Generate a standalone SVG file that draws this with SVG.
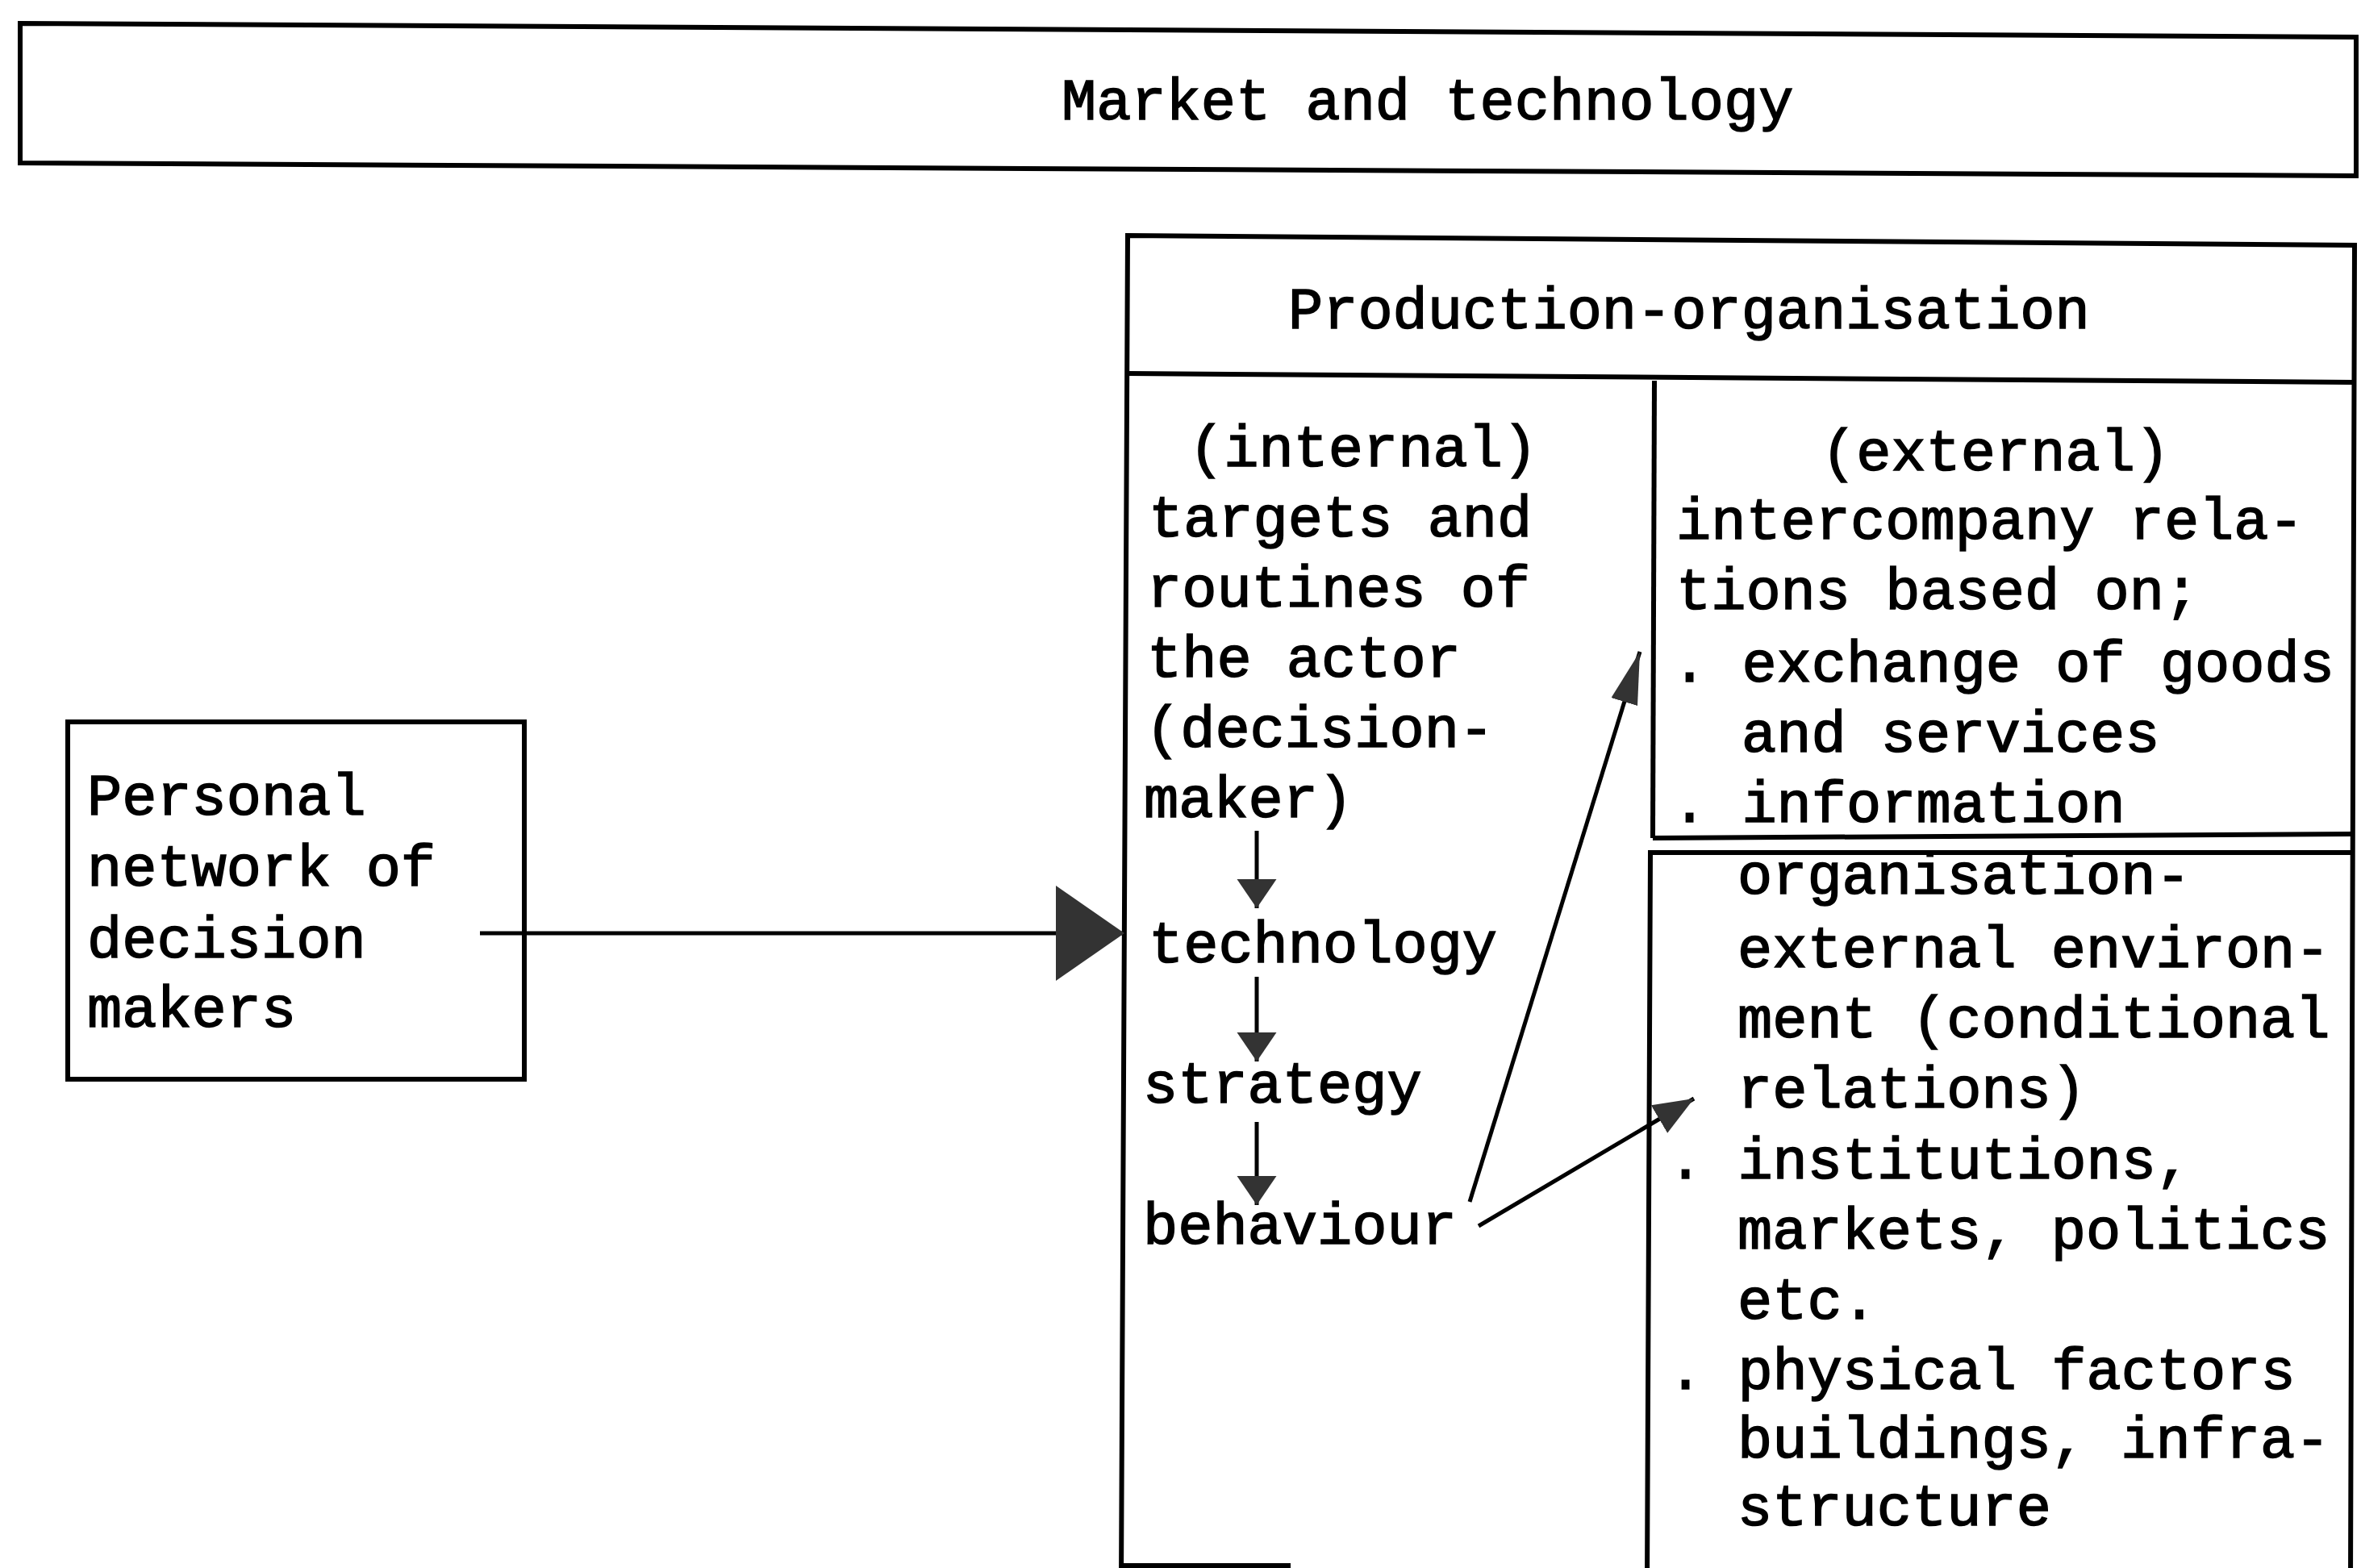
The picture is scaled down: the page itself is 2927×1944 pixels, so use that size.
<svg xmlns="http://www.w3.org/2000/svg" width="2927" height="1944" viewBox="0 0 2927 1944">
<style>
.t{font-family:"Liberation Mono","Courier New",monospace;font-size:72px;fill:#000;stroke:#000;stroke-width:1.6}
.b{fill:none;stroke:#000;stroke-width:6}
.c{fill:none;stroke:#000;stroke-width:5}
</style>
<defs>
<marker id="hs" markerUnits="userSpaceOnUse" markerWidth="40" markerHeight="52" refX="36" refY="24.5" orient="auto" viewBox="0 0 40 52"><path d="M0,0 L36,24.5 L0,49 z" fill="#333"/></marker>
<marker id="hl" markerUnits="userSpaceOnUse" markerWidth="90" markerHeight="122" refX="85" refY="59" orient="auto" viewBox="0 0 90 122"><path d="M0,0 L85,59 L0,118 z" fill="#333"/></marker>
<marker id="ha" markerUnits="userSpaceOnUse" markerWidth="70" markerHeight="40" refX="65" refY="17" orient="auto" viewBox="0 0 70 40"><path d="M0,0 L65,17 L0,34 z" fill="#333"/></marker>
<marker id="hb" markerUnits="userSpaceOnUse" markerWidth="56" markerHeight="46" refX="50" refY="20" orient="auto" viewBox="0 0 56 46"><path d="M0,0 L50,20 L0,40 z" fill="#333"/></marker>
</defs>
<rect width="2927" height="1944" fill="#fff"/>
<g id="market">
<polygon class="b" points="25,29 2921,46 2921,218 25,202"/>
<text class="t" x="1316" y="148">Market and technology</text>
</g>
<g id="production">
<polygon class="b" points="1398,292 2919,304 2914,1960 1390,1960"/>
<line class="b" x1="1398" y1="463" x2="2919" y2="474"/>
<line class="b" x1="1389" y1="1941" x2="1600" y2="1941"/>
<text class="t" x="1597" y="407">Production-organisation</text>
</g>
<g id="internal">
<line class="b" x1="2051" y1="472" x2="2049" y2="1039"/>
<text class="t" x="1474" y="578">(internal)</text>
<text class="t" x="1424" y="665">targets and</text>
<text class="t" x="1422" y="752">routines of</text>
<text class="t" x="1422" y="839">the actor</text>
<text class="t" x="1420" y="926">(decision-</text>
<text class="t" x="1418" y="1013">maker)</text>
<text class="t" x="1424" y="1193">technology</text>
<text class="t" x="1417" y="1367">strategy</text>
<text class="t" x="1417" y="1542">behaviour</text>
</g>
<g id="external1">
<line class="b" x1="2049" y1="1039" x2="2917" y2="1034"/>
<text class="t" x="2258" y="583">(external)</text>
<text class="t" x="2078" y="668">intercompany rela-</text>
<text class="t" x="2078" y="755">tions based on;</text>
<text class="t" x="2073" y="845">. exchange of goods</text>
<text class="t" x="2159" y="932">and services</text>
<text class="t" x="2073" y="1019">. information</text>
</g>
<g id="external2">
<polyline class="b" points="2917,1057 2046,1057 2042,1960"/>
<text class="t" x="2154" y="1108">organisation-</text>
<text class="t" x="2154" y="1199">external environ-</text>
<text class="t" x="2154" y="1286">ment (conditional</text>
<text class="t" x="2154" y="1373">relations)</text>
<text class="t" x="2068" y="1461">. institutions,</text>
<text class="t" x="2154" y="1548">markets, politics</text>
<text class="t" x="2154" y="1635">etc.</text>
<text class="t" x="2068" y="1722">. physical factors</text>
<text class="t" x="2154" y="1807">buildings, infra-</text>
<text class="t" x="2154" y="1891">structure</text>
</g>
<g id="personal">
<rect class="b" x="84" y="895" width="566" height="443"/>
<text class="t" x="108" y="1010">Personal</text>
<text class="t" x="108" y="1098">network of</text>
<text class="t" x="108" y="1187">decision</text>
<text class="t" x="108" y="1273">makers</text>
</g>
<g id="connectors">
<line class="c" x1="595" y1="1157" x2="1394" y2="1157" marker-end="url(#hl)"/>
<line class="c" x1="1558" y1="1030" x2="1558" y2="1126" marker-end="url(#hs)"/>
<line class="c" x1="1558" y1="1211" x2="1558" y2="1316" marker-end="url(#hs)"/>
<line class="c" x1="1558" y1="1391" x2="1558" y2="1494" marker-end="url(#hs)"/>
<line class="c" x1="1822" y1="1490" x2="2033" y2="808" marker-end="url(#ha)"/>
<line class="c" x1="1833" y1="1520" x2="2100" y2="1362" marker-end="url(#hb)"/>
</g>
</svg>
